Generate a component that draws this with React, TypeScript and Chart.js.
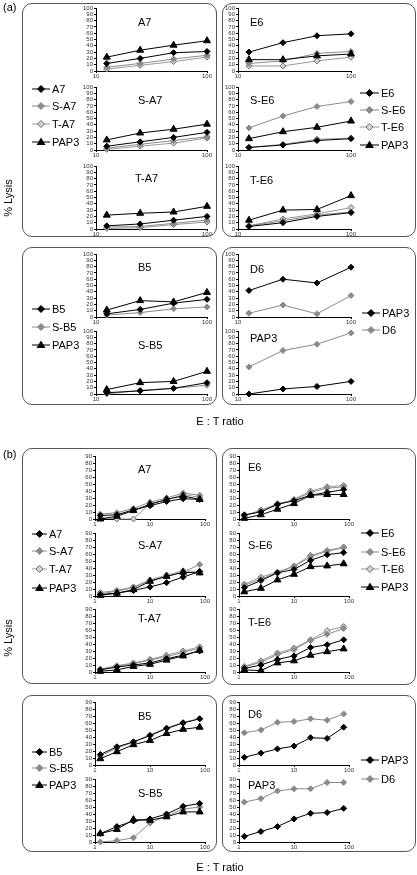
import React, { useEffect, useRef } from "react";
import { Chart, registerables } from "chart.js";
Chart.register(...registerables);

// ---------- x values (E:T ratios) ----------
const ratiosA = [12.5, 25, 50, 100];
const ratiosB = [1.25, 2.5, 5, 10, 20, 40, 80];
const xTicksA = [10, 100];
const xTicksB = [1, 10, 100];

// ---------- (a) data ----------
const aA7_A7 = [12, 20, 29, 31];
const aA7_SA7 = [6, 12, 19, 25];
const aA7_TA7 = [3, 9, 15, 22];
const aA7_PAP3 = [22, 33, 41, 48];

const aSA7_A7 = [6, 13, 20, 28];
const aSA7_SA7 = [3, 9, 15, 21];
const aSA7_TA7 = [1, 6, 11, 19];
const aSA7_PAP3 = [16, 27, 33, 41];

const aTA7_A7 = [5, 8, 14, 20];
const aTA7_SA7 = [3, 4, 9, 14];
const aTA7_TA7 = [1, 2, 7, 11];
const aTA7_PAP3 = [22, 25, 27, 36];

const aE6_E6 = [30, 45, 56, 59];
const aE6_SE6 = [12, 16, 28, 31];
const aE6_TE6 = [8, 8, 16, 22];
const aE6_PAP3 = [18, 18, 24, 27];

const aSE6_E6 = [4, 8, 15, 18];
const aSE6_SE6 = [35, 54, 69, 77];
const aSE6_TE6 = [4, 9, 17, 19];
const aSE6_PAP3 = [18, 29, 36, 46];

const aTE6_E6 = [4, 10, 20, 26];
const aTE6_SE6 = [5, 13, 22, 27];
const aTE6_TE6 = [5, 16, 24, 34];
const aTE6_PAP3 = [14, 30, 31, 53];

const aB5_B5 = [5, 12, 22, 28];
const aB5_SB5 = [3, 7, 13, 16];
const aB5_PAP3 = [11, 26, 24, 39];

const aSB5_B5 = [2, 5, 9, 18];
const aSB5_SB5 = [0, 6, 9, 14];
const aSB5_PAP3 = [7, 18, 20, 36];

const aD6_PAP3 = [42, 60, 54, 79];
const aD6_D6 = [6, 19, 5, 34];
const aPAP3_PAP3 = [0, 8, 12, 20];
const aPAP3_D6 = [43, 69, 79, 97];

// ---------- (b) data ----------
const bA7_A7 = [5, 6, 13, 19, 25, 29, 28];
const bA7_SA7 = [7, 9, 15, 24, 30, 37, 34];
const bA7_TA7 = [2, 0, 0, 22, 27, 35, 31];
const bA7_PAP3 = [0, 4, 12, 21, 28, 33, 28];

const bSA7_A7 = [2, 4, 8, 13, 19, 27, 35];
const bSA7_SA7 = [3, 7, 12, 22, 28, 34, 45];
const bSA7_TA7 = [5, 8, 13, 23, 30, 36, 35];
const bSA7_PAP3 = [1, 4, 9, 21, 28, 34, 33];

const bTA7_A7 = [3, 7, 10, 13, 19, 24, 30];
const bTA7_SA7 = [4, 8, 12, 17, 22, 28, 34];
const bTA7_TA7 = [4, 9, 13, 18, 24, 30, 36];
const bTA7_PAP3 = [1, 3, 8, 11, 17, 23, 31];

const bE6_E6 = [6, 10, 21, 26, 34, 38, 42];
const bE6_SE6 = [5, 12, 22, 27, 38, 44, 46];
const bE6_TE6 = [4, 13, 20, 28, 40, 46, 48];
const bE6_PAP3 = [1, 6, 14, 22, 34, 35, 35];

const bSE6_E6 = [12, 22, 33, 38, 51, 59, 62];
const bSE6_SE6 = [15, 24, 34, 42, 56, 64, 69];
const bSE6_TE6 = [17, 27, 34, 43, 58, 65, 70];
const bSE6_PAP3 = [6, 11, 23, 31, 42, 43, 46];

const bTE6_E6 = [5, 10, 18, 23, 35, 39, 46];
const bTE6_SE6 = [7, 14, 25, 32, 45, 54, 62];
const bTE6_TE6 = [8, 16, 27, 34, 46, 59, 65];
const bTE6_PAP3 = [3, 2, 13, 16, 24, 29, 33];

const bB5_B5 = [15, 26, 33, 42, 52, 60, 66];
const bB5_SB5 = [13, 24, 33, 43, 53, 61, 66];
const bB5_PAP3 = [9, 19, 29, 35, 45, 51, 54];

const bSB5_B5 = [12, 22, 30, 33, 40, 51, 55];
const bSB5_SB5 = [0, 2, 6, 27, 37, 47, 50];
const bSB5_PAP3 = [12, 18, 32, 31, 36, 43, 43];

const bD6_D6 = [46, 50, 61, 62, 66, 64, 73];
const bD6_PAP3 = [11, 17, 23, 27, 39, 38, 54];
const bPAP3_D6 = [57, 62, 73, 76, 76, 85, 85];
const bPAP3_PAP3 = [8, 15, 22, 33, 41, 42, 48];

// ---------- styles ----------
const FONT = "'Liberation Sans', Arial, Helvetica, sans-serif";
const GRAY = "#8a8a8a";

type StyleKey = "black" | "gray" | "hollow" | "tri";

const STYLES: Record<StyleKey, any> = {
  black: {
    borderColor: "#000", backgroundColor: "#000", pointStyle: "rectRot",
    pointRadius: 3, pointBorderWidth: 1, pointBackgroundColor: "#000", pointBorderColor: "#000",
  },
  gray: {
    borderColor: GRAY, backgroundColor: GRAY, pointStyle: "rectRot",
    pointRadius: 3, pointBorderWidth: 1, pointBackgroundColor: GRAY, pointBorderColor: GRAY,
  },
  hollow: {
    borderColor: "#999", backgroundColor: "#d2d2d2", pointStyle: "rectRot",
    pointRadius: 3, pointBorderWidth: 1, pointBackgroundColor: "#d2d2d2", pointBorderColor: "#6e6e6e",
  },
  tri: {
    borderColor: "#000", backgroundColor: "#000", pointStyle: "triangle",
    pointRadius: 4, pointBorderWidth: 1, pointBackgroundColor: "#000", pointBorderColor: "#000",
  },
};

const PAD_L = 20, PAD_R = 9, PAD_T = 5, PAD_B = 10;

type Series = { values: number[]; style: StyleKey };
type Spec = {
  left: number; top: number; w: number; h: number;
  xs: number[]; xMin: number; xMax: number; xTicks: number[]; yMax: number;
  series: Series[];
};

function buildConfig(s: Spec): any {
  return {
    type: "line",
    data: {
      datasets: s.series.map((ser) => ({
        data: s.xs.map((x, i) => ({ x, y: ser.values[i] })),
        borderWidth: 1,
        tension: 0,
        clip: false,
        ...STYLES[ser.style],
      })),
    },
    options: {
      animation: false,
      responsive: false,
      maintainAspectRatio: false,
      events: [],
      layout: { padding: { top: PAD_T, right: PAD_R, left: 0, bottom: 0 } },
      plugins: { legend: { display: false }, tooltip: { enabled: false }, title: { display: false } },
      scales: {
        x: {
          type: "logarithmic",
          min: s.xMin,
          max: s.xMax,
          afterBuildTicks: (axis: any) => {
            axis.ticks = s.xTicks.map((v) => ({ value: v }));
          },
          ticks: {
            autoSkip: false, maxRotation: 0, minRotation: 0, padding: 0,
            color: "#333", font: { size: 6, family: FONT, lineHeight: 1 },
            callback: (v: any) => String(v),
          },
          grid: { display: true, drawOnChartArea: false, drawTicks: true, tickLength: 2, color: "#000", lineWidth: 1 },
          border: { display: true, color: "#000", width: 1 },
          afterFit: (axis: any) => {
            axis.height = PAD_B;
            axis.paddingLeft = 0;
            axis.paddingRight = 0;
          },
        },
        y: {
          type: "linear",
          min: 0,
          max: s.yMax,
          ticks: {
            stepSize: 10, autoSkip: false, padding: 1,
            color: "#333", font: { size: 6, family: FONT, lineHeight: 1 },
          },
          grid: { display: true, drawOnChartArea: false, drawTicks: true, tickLength: 2, color: "#000", lineWidth: 1 },
          border: { display: true, color: "#000", width: 1 },
          afterFit: (axis: any) => {
            axis.width = PAD_L;
            axis.paddingTop = 0;
            axis.paddingBottom = 0;
          },
        },
      },
    },
  };
}

function MiniChart({ spec }: { spec: Spec }) {
  const ref = useRef<HTMLCanvasElement>(null);
  useEffect(() => {
    const chart = new Chart(ref.current as HTMLCanvasElement, buildConfig(spec));
    return () => chart.destroy();
  }, []);
  const W = spec.w + PAD_L + PAD_R;
  const H = spec.h + PAD_T + PAD_B;
  return (
    <canvas
      ref={ref}
      width={W}
      height={H}
      style={{ position: "absolute", left: spec.left - PAD_L, top: spec.top - PAD_T, width: W, height: H }}
    />
  );
}

// ---------- layout ----------
const AL = { left: 96, w: 111 };
const AR = { left: 238, w: 113 };
const BLx = { left: 95, w: 110 };
const BRx = { left: 239, w: 110 };

function specA(col: { left: number; w: number }, top: number, series: Series[]): Spec {
  return { left: col.left, w: col.w, top, h: 63, xs: ratiosA, xMin: 10, xMax: 100, xTicks: xTicksA, yMax: 100, series };
}
function specB(col: { left: number; w: number }, top: number, series: Series[]): Spec {
  return { left: col.left, w: col.w, top, h: 63, xs: ratiosB, xMin: 1, xMax: 100, xTicks: xTicksB, yMax: 90, series };
}

const charts: { spec: Spec; title: string; tx: number; ty: number }[] = [
  // (a) left top box
  { spec: specA(AL, 8, [{ values: aA7_A7, style: "black" }, { values: aA7_PAP3, style: "tri" }, { values: aA7_SA7, style: "gray" }, { values: aA7_TA7, style: "hollow" }]), title: "A7", tx: 138, ty: 22 },
  { spec: specA(AL, 87, [{ values: aSA7_A7, style: "black" }, { values: aSA7_PAP3, style: "tri" }, { values: aSA7_SA7, style: "gray" }, { values: aSA7_TA7, style: "hollow" }]), title: "S-A7", tx: 138, ty: 100 },
  { spec: specA(AL, 166, [{ values: aTA7_A7, style: "black" }, { values: aTA7_PAP3, style: "tri" }, { values: aTA7_SA7, style: "gray" }, { values: aTA7_TA7, style: "hollow" }]), title: "T-A7", tx: 135, ty: 178 },
  // (a) right top box
  { spec: specA(AR, 8, [{ values: aE6_E6, style: "black" }, { values: aE6_PAP3, style: "tri" }, { values: aE6_SE6, style: "gray" }, { values: aE6_TE6, style: "hollow" }]), title: "E6", tx: 250, ty: 22 },
  { spec: specA(AR, 87, [{ values: aSE6_E6, style: "black" }, { values: aSE6_PAP3, style: "tri" }, { values: aSE6_SE6, style: "gray" }, { values: aSE6_TE6, style: "hollow" }]), title: "S-E6", tx: 250, ty: 100 },
  { spec: specA(AR, 166, [{ values: aTE6_E6, style: "black" }, { values: aTE6_PAP3, style: "tri" }, { values: aTE6_SE6, style: "gray" }, { values: aTE6_TE6, style: "hollow" }]), title: "T-E6", tx: 250, ty: 180 },
  // (a) bottom boxes
  { spec: specA(AL, 254, [{ values: aB5_B5, style: "black" }, { values: aB5_PAP3, style: "tri" }, { values: aB5_SB5, style: "gray" }]), title: "B5", tx: 138, ty: 267 },
  { spec: specA(AL, 331, [{ values: aSB5_B5, style: "black" }, { values: aSB5_PAP3, style: "tri" }, { values: aSB5_SB5, style: "gray" }]), title: "S-B5", tx: 138, ty: 345 },
  { spec: specA(AR, 254, [{ values: aD6_PAP3, style: "black" }, { values: aD6_D6, style: "gray" }]), title: "D6", tx: 250, ty: 269 },
  { spec: specA(AR, 331, [{ values: aPAP3_PAP3, style: "black" }, { values: aPAP3_D6, style: "gray" }]), title: "PAP3", tx: 250, ty: 338 },
  // (b) left top box
  { spec: specB(BLx, 456, [{ values: bA7_A7, style: "black" }, { values: bA7_PAP3, style: "tri" }, { values: bA7_SA7, style: "gray" }, { values: bA7_TA7, style: "hollow" }]), title: "A7", tx: 138, ty: 469 },
  { spec: specB(BLx, 533, [{ values: bSA7_A7, style: "black" }, { values: bSA7_PAP3, style: "tri" }, { values: bSA7_SA7, style: "gray" }, { values: bSA7_TA7, style: "hollow" }]), title: "S-A7", tx: 138, ty: 545 },
  { spec: specB(BLx, 609, [{ values: bTA7_A7, style: "black" }, { values: bTA7_PAP3, style: "tri" }, { values: bTA7_SA7, style: "gray" }, { values: bTA7_TA7, style: "hollow" }]), title: "T-A7", tx: 138, ty: 618 },
  // (b) right top box
  { spec: specB(BRx, 456, [{ values: bE6_E6, style: "black" }, { values: bE6_PAP3, style: "tri" }, { values: bE6_SE6, style: "gray" }, { values: bE6_TE6, style: "hollow" }]), title: "E6", tx: 248, ty: 467 },
  { spec: specB(BRx, 533, [{ values: bSE6_E6, style: "black" }, { values: bSE6_PAP3, style: "tri" }, { values: bSE6_SE6, style: "gray" }, { values: bSE6_TE6, style: "hollow" }]), title: "S-E6", tx: 248, ty: 545 },
  { spec: specB(BRx, 609, [{ values: bTE6_E6, style: "black" }, { values: bTE6_PAP3, style: "tri" }, { values: bTE6_SE6, style: "gray" }, { values: bTE6_TE6, style: "hollow" }]), title: "T-E6", tx: 248, ty: 622 },
  // (b) bottom boxes
  { spec: specB(BLx, 702, [{ values: bB5_B5, style: "black" }, { values: bB5_PAP3, style: "tri" }, { values: bB5_SB5, style: "gray" }]), title: "B5", tx: 138, ty: 716 },
  { spec: specB(BLx, 779, [{ values: bSB5_B5, style: "black" }, { values: bSB5_PAP3, style: "tri" }, { values: bSB5_SB5, style: "gray" }]), title: "S-B5", tx: 138, ty: 793 },
  { spec: specB(BRx, 702, [{ values: bD6_PAP3, style: "black" }, { values: bD6_D6, style: "gray" }]), title: "D6", tx: 248, ty: 714 },
  { spec: specB(BRx, 779, [{ values: bPAP3_PAP3, style: "black" }, { values: bPAP3_D6, style: "gray" }]), title: "PAP3", tx: 248, ty: 785 },
];

const boxes = [
  { left: 22, top: 3, width: 195, height: 234 },
  { left: 222, top: 3, width: 194, height: 234 },
  { left: 22, top: 247, width: 195, height: 158 },
  { left: 222, top: 247, width: 194, height: 158 },
  { left: 22, top: 448, width: 195, height: 236 },
  { left: 222, top: 448, width: 194, height: 237 },
  { left: 22, top: 695, width: 195, height: 157 },
  { left: 222, top: 695, width: 194, height: 157 },
];

type Leg = { x: number; len: number; textX: number; items: { y: number; label: string; style: StyleKey }[] };
const legends: Leg[] = [
  { x: 32, len: 18, textX: 52, items: [
    { y: 89, label: "A7", style: "black" }, { y: 106, label: "S-A7", style: "gray" },
    { y: 124, label: "T-A7", style: "hollow" }, { y: 142, label: "PAP3", style: "tri" }] },
  { x: 360, len: 19, textX: 381, items: [
    { y: 93, label: "E6", style: "black" }, { y: 110, label: "S-E6", style: "gray" },
    { y: 127, label: "T-E6", style: "hollow" }, { y: 145, label: "PAP3", style: "tri" }] },
  { x: 32, len: 18, textX: 52, items: [
    { y: 309, label: "B5", style: "black" }, { y: 327, label: "S-B5", style: "gray" }, { y: 345, label: "PAP3", style: "tri" }] },
  { x: 362, len: 18, textX: 382, items: [
    { y: 313, label: "PAP3", style: "black" }, { y: 330, label: "D6", style: "gray" }] },
  { x: 32, len: 15, textX: 49, items: [
    { y: 534, label: "A7", style: "black" }, { y: 551, label: "S-A7", style: "gray" },
    { y: 569, label: "T-A7", style: "hollow" }, { y: 588, label: "PAP3", style: "tri" }] },
  { x: 361, len: 18, textX: 381, items: [
    { y: 533, label: "E6", style: "black" }, { y: 552, label: "S-E6", style: "gray" },
    { y: 569, label: "T-E6", style: "hollow" }, { y: 587, label: "PAP3", style: "tri" }] },
  { x: 32, len: 15, textX: 49, items: [
    { y: 752, label: "B5", style: "black" }, { y: 768, label: "S-B5", style: "gray" }, { y: 785, label: "PAP3", style: "tri" }] },
  { x: 361, len: 18, textX: 381, items: [
    { y: 760, label: "PAP3", style: "black" }, { y: 779, label: "D6", style: "gray" }] },
];

function Marker({ style, cx }: { style: StyleKey; cx: number }) {
  const st = STYLES[style];
  const cy = 6;
  if (style === "tri") {
    return <polygon points={`${cx},${cy - 4.5} ${cx + 4.5},${cy + 3} ${cx - 4.5},${cy + 3}`} fill="#000" />;
  }
  const r = 3.5;
  return (
    <polygon
      points={`${cx},${cy - r} ${cx + r},${cy} ${cx},${cy + r} ${cx - r},${cy}`}
      fill={st.pointBackgroundColor}
      stroke={st.pointBorderColor}
      strokeWidth={1}
    />
  );
}

function Legend({ leg }: { leg: Leg }) {
  return (
    <>
      {leg.items.map((it, i) => (
        <React.Fragment key={i}>
          <svg
            width={leg.len}
            height={12}
            style={{ position: "absolute", left: leg.x, top: it.y - 6, overflow: "visible" }}
          >
            <line x1={0} y1={6} x2={leg.len} y2={6} stroke={STYLES[it.style].borderColor} strokeWidth={1} />
            <Marker style={it.style} cx={leg.len / 2} />
          </svg>
          <div style={{ position: "absolute", left: leg.textX, top: it.y - 7, lineHeight: "14px", fontSize: 11, whiteSpace: "nowrap" }}>
            {it.label}
          </div>
        </React.Fragment>
      ))}
    </>
  );
}

export default function App() {
  return (
    <div
      style={{
        position: "absolute", left: 0, top: 0, width: 417, height: 875,
        background: "#fff", fontFamily: FONT, color: "#000", overflow: "hidden",
      }}
    >
      {boxes.map((b, i) => (
        <div
          key={i}
          style={{
            position: "absolute", left: b.left, top: b.top, width: b.width, height: b.height,
            border: "1px solid #555", borderRadius: 10, boxSizing: "border-box",
          }}
        />
      ))}
      {charts.map((c, i) => (
        <React.Fragment key={i}>
          <MiniChart spec={c.spec} />
          <div style={{ position: "absolute", left: c.tx, top: c.ty - 7, lineHeight: "14px", fontSize: 11, whiteSpace: "nowrap" }}>
            {c.title}
          </div>
        </React.Fragment>
      ))}
      {legends.map((l, i) => (
        <Legend key={i} leg={l} />
      ))}
      <div style={{ position: "absolute", left: 3, top: 0, lineHeight: "14px", fontSize: 11 }}>(a)</div>
      <div style={{ position: "absolute", left: 3, top: 447, lineHeight: "14px", fontSize: 11 }}>(b)</div>
      <div style={{ position: "absolute", left: 8, top: 198, transform: "translate(-50%, -50%) rotate(-90deg)", fontSize: 11, whiteSpace: "nowrap", lineHeight: "14px" }}>
        % Lysis
      </div>
      <div style={{ position: "absolute", left: 8, top: 638, transform: "translate(-50%, -50%) rotate(-90deg)", fontSize: 11, whiteSpace: "nowrap", lineHeight: "14px" }}>
        % Lysis
      </div>
      <div style={{ position: "absolute", left: 220, top: 421, transform: "translate(-50%, -50%)", fontSize: 11, whiteSpace: "nowrap", lineHeight: "14px" }}>
        E : T ratio
      </div>
      <div style={{ position: "absolute", left: 220, top: 867, transform: "translate(-50%, -50%)", fontSize: 11, whiteSpace: "nowrap", lineHeight: "14px" }}>
        E : T ratio
      </div>
    </div>
  );
}
